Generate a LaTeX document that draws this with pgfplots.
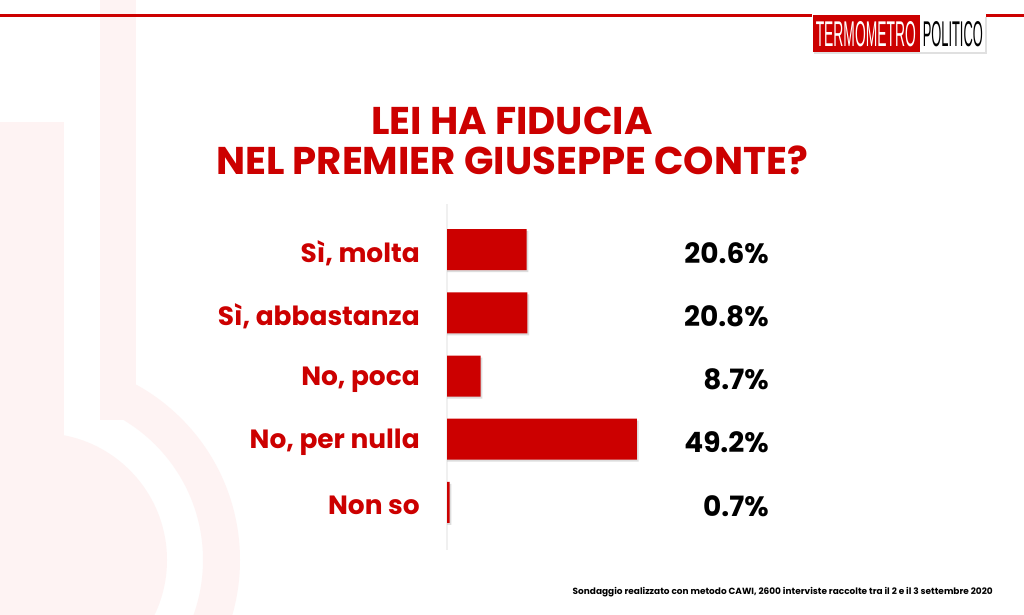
\documentclass[border=0pt]{standalone}
\usepackage{pgfplots}
\pgfplotsset{compat=1.18}
\usepackage{pgfplotstable}
\usepackage{fontspec}
\setmainfont{Poppins}
\newfontfamily\logofont{Liberation Sans}
\definecolor{tpred}{RGB}{204,0,0}
\definecolor{ghost}{RGB}{254,243,243}

\pgfplotstableread{
y v
0 20.6
1 20.8
2 8.7
3 49.2
4 0.7
}\fiducia

\begin{document}
\begin{tikzpicture}[x=0.75pt, y=-0.75pt]
% canvas, in pixels of the reference
\path[use as bounding box, fill=white] (0,0) rectangle (1024,614);

% faint thermometer in the background
\begin{scope}
\fill[ghost] (0,122) rectangle (64,614);
\fill[ghost] (40,560) circle[radius=127];
\fill[ghost] (100,0) rectangle (136,420);
\clip (100,0) rectangle (300,614);
\fill[ghost, even odd rule] (40,560) circle[radius=200] (40,560) circle[radius=163];
\end{scope}

% top rule and logo
\fill[tpred] (0,14) rectangle (1024,16.5);
\fill[white] (812,10) rectangle (986,56);
\fill[black!12] (814,17) rectangle (987,54);
\fill[tpred] (813,15) rectangle (920,52);
\fill[white] (920,15) rectangle (985,52);
\node[anchor=base west, inner sep=0pt, text=white] at (815.5,46.5)
  {\resizebox{75pt}{18.75pt}{\logofont TERMOMETRO}};
\node[anchor=base west, inner sep=0pt, text=black] at (922.5,46.5)
  {\resizebox{45pt}{18.75pt}{\logofont POLITICO}};

% title
\node[anchor=base, inner sep=0pt, text=tpred, font=\fontsize{29}{34}\selectfont\bfseries]
  at (512,134) {LEI HA FIDUCIA};
\node[anchor=base, inner sep=0pt, text=tpred, font=\fontsize{29}{34}\selectfont\bfseries]
  at (512,174) {NEL PREMIER GIUSEPPE CONTE?};

\coordinate (origin) at (447,534);
\begin{axis}[
  at={(origin)}, anchor=south west,
  scale only axis, width=144.75pt, height=237pt,
  xmin=0, xmax=50, ymin=-0.5, ymax=4.5, y dir=reverse,
  axis line style={draw=none}, major tick length=0pt,
  xtick=\empty, ytick={0,...,4},
  yticklabels={{Sì, molta},{Sì, abbastanza},{No, poca},{No, per nulla},{Non so}},
  yticklabel style={anchor=east, inner sep=0pt, xshift=-20.25pt, yshift=-2.5pt, text=tpred,
    font=\fontsize{19.8}{24}\selectfont\bfseries},
  clip=false,
]
\draw[black!6, line width=1.5pt] (axis cs:0,-0.72) -- (axis cs:0,4.75);
\addplot[xbar, bar width=30.75pt, bar shift=-1.5pt, fill=black!22, draw=none, opacity=0.6]
  table[x expr=\thisrow{v}+0.45, y=y] {\fiducia};
\addplot[xbar, bar width=30.75pt, bar shift=0pt, fill=tpred, draw=none]
  table[x=v, y=y] {\fiducia};
\addplot[draw=none, mark=none, point meta=explicit,
  nodes near coords={\pgfmathprintnumber[fixed,fixed zerofill,precision=1,assume math mode=true]{\pgfplotspointmeta}\%},
  every node near coord/.append style={anchor=east, inner sep=0pt, text=black, yshift=-2.5pt,
    font=\fontsize{21}{25}\selectfont\bfseries}]
  table[x expr=83.42, y=y, meta=v] {\fiducia};
\end{axis}

% footnote
\node[anchor=base east, inner sep=0pt, text=black] at (993,594)
  {\resizebox{315pt}{!}{\bfseries Sondaggio realizzato con metodo CAWI, 2600 interviste raccolte tra il 2 e il 3 settembre 2020}};
\end{tikzpicture}
\end{document}
